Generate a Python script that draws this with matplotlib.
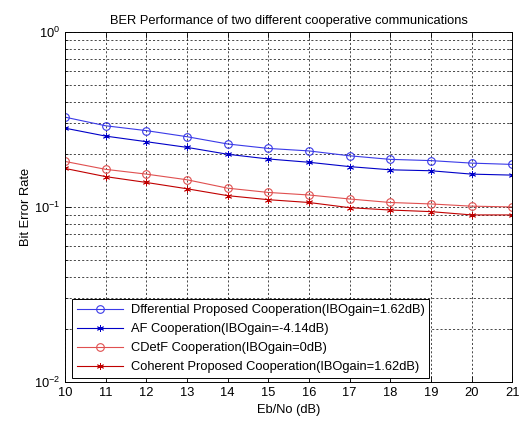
import numpy as np
import matplotlib
matplotlib.use("Agg")
import matplotlib.pyplot as plt
from matplotlib.ticker import LogLocator, NullFormatter

# Eb/No (dB)
ebno = [10, 11, 12, 13, 14, 15, 16, 17, 18, 19, 20, 21]

# BER
ber_dif = [0.326, 0.291, 0.273, 0.252, 0.229, 0.216, 0.209, 0.196, 0.187, 0.184, 0.178, 0.175]
ber_af = [0.282, 0.254, 0.236, 0.219, 0.200, 0.188, 0.180, 0.170, 0.163, 0.161, 0.154, 0.152]
ber_cdetf = [0.182, 0.164, 0.154, 0.143, 0.128, 0.121, 0.117, 0.111, 0.106, 0.104, 0.101, 0.100]
ber_coh = [0.166, 0.149, 0.138, 0.127, 0.116, 0.110, 0.106, 0.099, 0.096, 0.094, 0.090, 0.090]

etiquetas = ["Dfferential Proposed Cooperation(IBOgain=1.62dB)",
             "AF Cooperation(IBOgain=-4.14dB)",
             "CDetF Cooperation(IBOgain=0dB)",
             "Coherent Proposed Cooperation(IBOgain=1.62dB)"]

plt.rcParams['font.family'] = ['Liberation Sans', 'DejaVu Sans']
plt.rcParams['font.size'] = 9.3
plt.rcParams['mathtext.default'] = 'regular'

fig, ax = plt.subplots(figsize=(5.2, 4.21), dpi=100)
fig.subplots_adjust(left=0.125, right=0.985, bottom=0.093, top=0.924)

ast = (6, 2, 0)
ax.semilogy(ebno, ber_dif, color="#3a3ae8", marker="o", mfc="none", ms=5.5, mew=0.8, lw=0.8, label=etiquetas[0])
ax.semilogy(ebno, ber_af, color="#0000c8", marker=ast, ms=5, mew=0.6, lw=0.8, label=etiquetas[1])
ax.semilogy(ebno, ber_cdetf, color="#e05050", marker="o", mfc="none", ms=5.5, mew=0.8, lw=0.8, label=etiquetas[2])
ax.semilogy(ebno, ber_coh, color="#c00000", marker=ast, ms=5, mew=0.6, lw=0.8, label=etiquetas[3])

ax.set_xlim(10, 21)
ax.set_ylim(1e-2, 1)
ax.set_xticks(ebno)
ax.yaxis.set_major_locator(LogLocator(base=10, numticks=5))
ax.yaxis.set_minor_locator(LogLocator(base=10, subs=np.arange(2, 10), numticks=20))
ax.yaxis.set_minor_formatter(NullFormatter())

ax.tick_params(which="both", direction="in", top=True, right=True, labelsize=9.3)
ax.tick_params(which="major", length=4, width=0.6)
ax.tick_params(which="minor", length=2, width=0.5)

ax.grid(True, which="both", color="black", linestyle=(0, (3, 3)), linewidth=0.5)
for s in ax.spines.values():
    s.set_linewidth(0.7)

plt.title("BER Performance of two different cooperative communications", fontsize=9.3)
plt.xlabel("Eb/No (dB)", fontsize=9.3)
plt.ylabel("Bit Error Rate", fontsize=9.3, labelpad=1)

leg = ax.legend(loc="lower left", bbox_to_anchor=(0.016, 0.011), fontsize=9.3, frameon=True,
                fancybox=False, edgecolor="black", handlelength=3.6, handletextpad=0.6,
                borderpad=0.35, labelspacing=0.55, borderaxespad=0.0)
leg.get_frame().set_linewidth(0.7)
leg.get_frame().set_alpha(1)

fig.savefig("out.png", dpi=100)
